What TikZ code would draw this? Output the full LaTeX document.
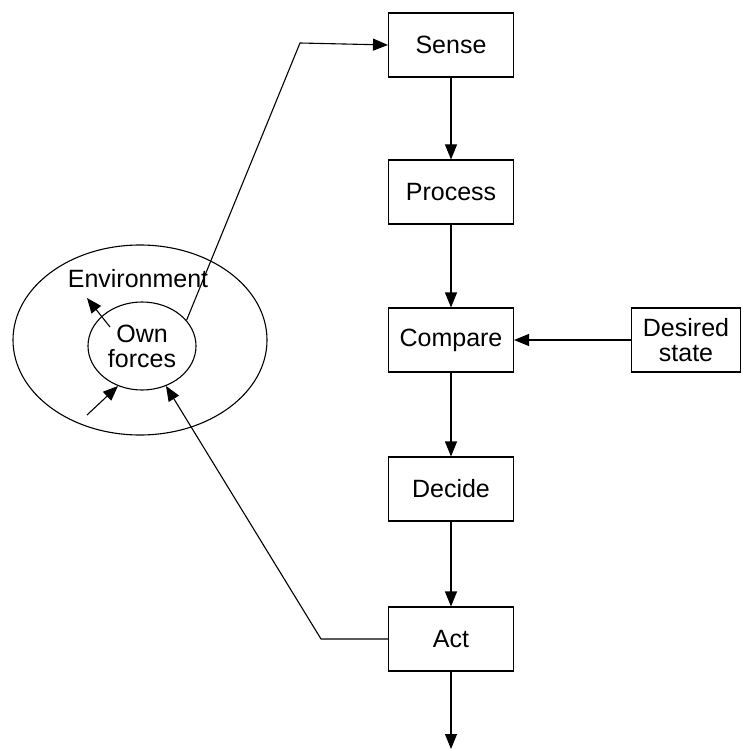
\documentclass[tikz,border=0pt]{standalone}
\usepackage{fontspec}
\setmainfont{Liberation Sans}
\usetikzlibrary{arrows.meta,shapes.geometric}
\begin{document}
\begin{tikzpicture}[x=1pt,y=-1pt,
  line width=1.1pt,
  font=\fontsize{25}{29}\selectfont,
  stepbox/.style={draw,minimum width=125pt,minimum height=64pt,inner sep=0pt,align=center},
  arr/.style={-{Triangle[length=15pt,width=12pt]}},
  ell/.style={draw,ellipse,inner sep=0pt}]
\useasboundingbox (0,0) rectangle (747,751);
\node[stepbox] (sense) at (451,45) {Sense};
\node[stepbox] (process) at (451,192) {Process};
\node[stepbox] (compare) at (451,340) {Compare};
\node[stepbox] (decide) at (451,489) {Decide};
\node[stepbox] (act) at (451,639) {Act};
\node[stepbox,minimum width=109pt] (desired) at (686,340) {Desired\\[-4pt]state};
\node[ell,minimum width=254pt,minimum height=190pt] (env) at (140,340) {};
\node[ell,minimum width=108pt,minimum height=88pt,align=center] (own) at (142,346) {Own\\[-4pt]forces};
\node (envlabel) at (138,279) {Environment};
\coordinate (b1) at (300,43);
\coordinate (b2) at (321,639);
\coordinate (e1) at (110,327);
\coordinate (e2) at (87,298);
\coordinate (e3) at (87,415);
\coordinate (bot) at (451,749);
\draw[arr] (sense) -- (process);
\draw[arr] (process) -- (compare);
\draw[arr] (compare) -- (decide);
\draw[arr] (decide) -- (act);
\draw[arr] (act) -- (bot);
\draw[arr] (desired) -- (compare);
\draw[arr] (own.30) -- (b1) -- (sense.west);
\draw[arr] (act.west) -- (b2) -- (own.-59);
\draw[arr] (e1) -- (e2);
\draw[arr] (e3) -- (own.-121);
\end{tikzpicture}
\end{document}
